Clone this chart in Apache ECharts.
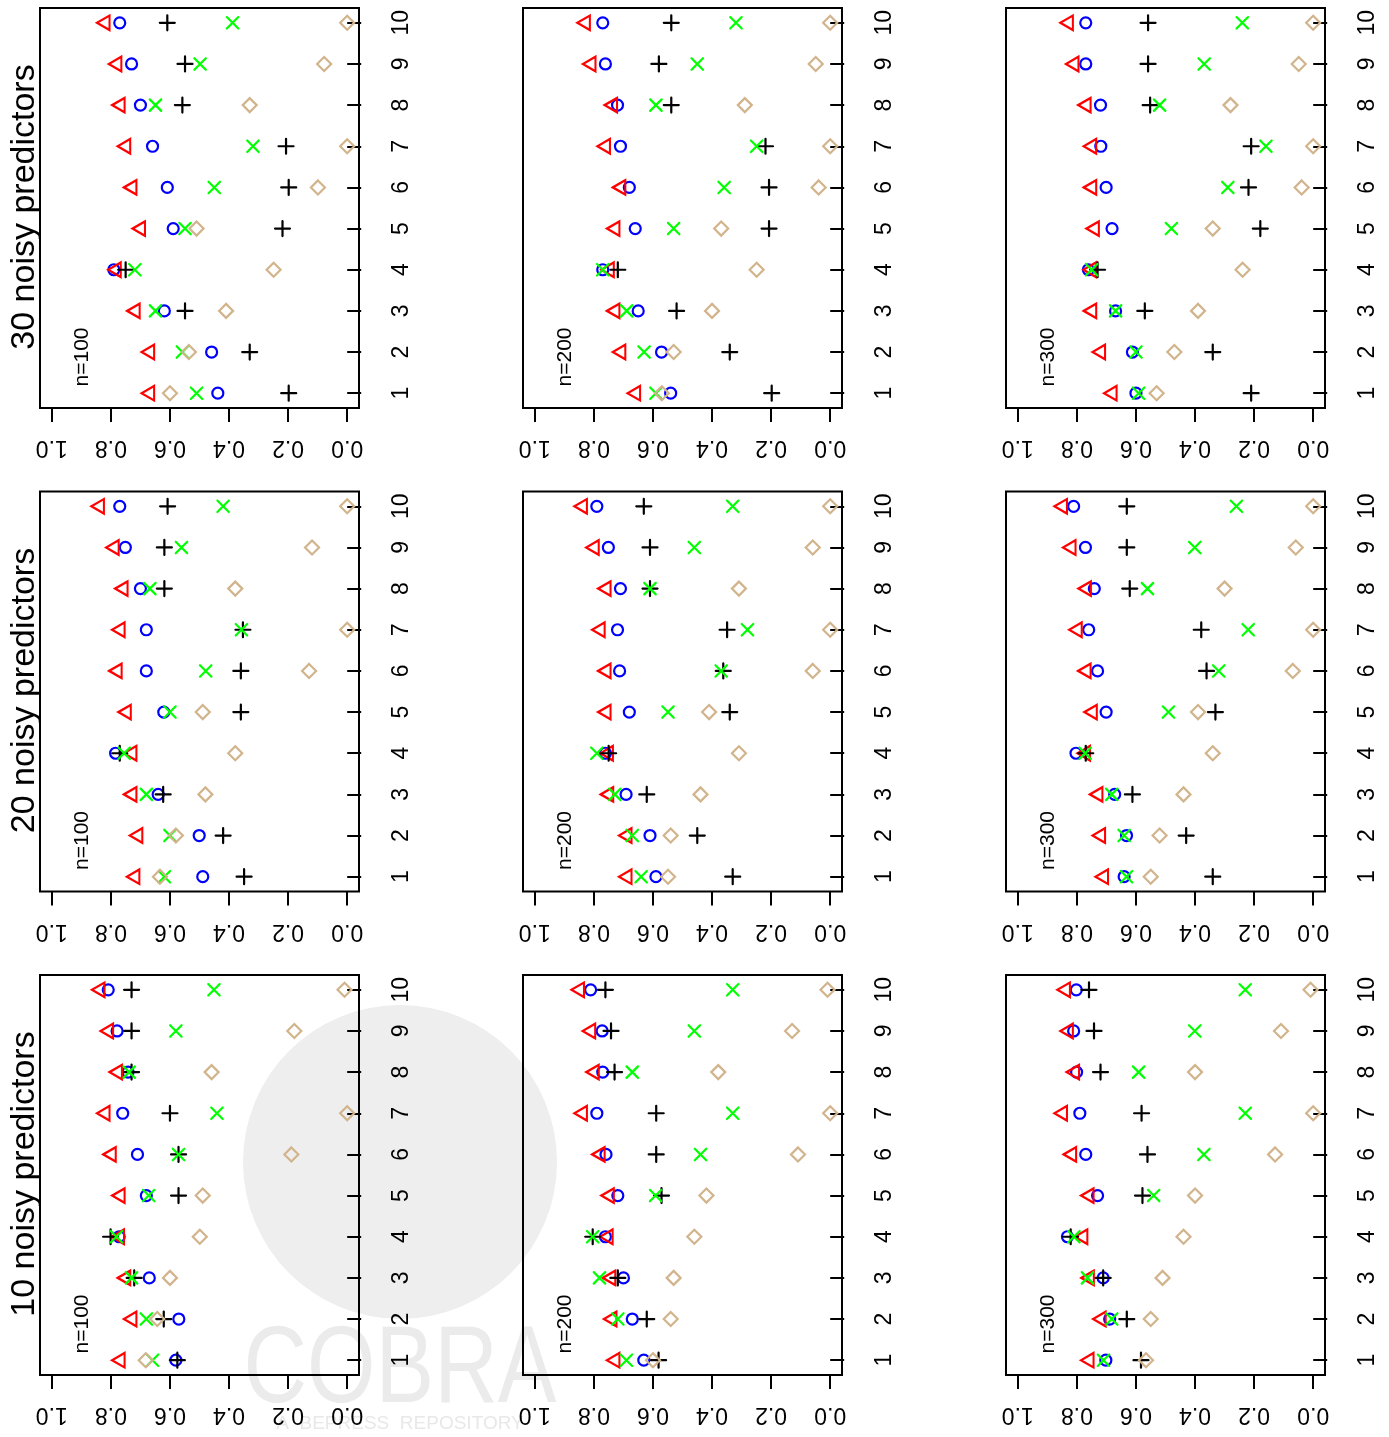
<!DOCTYPE html>
<html><head><meta charset="utf-8">
<script src="https://cdn.jsdelivr.net/npm/echarts@6/dist/echarts.min.js"></script>
<style>html,body{margin:0;padding:0;background:#fff}#c{width:1389px;height:1437px}</style>
</head><body><div id="c"></div>
<script>
// ---------------- data ----------------
const categories = [1, 2, 3, 4, 5, 6, 7, 8, 9, 10];
const valueTicks = [0, 0.2, 0.4, 0.6, 0.8, 1.0];
const rowLabels = ['30 noisy predictors', '20 noisy predictors', '10 noisy predictors'];
const colLabels = ['n=100', 'n=200', 'n=300'];

// Each array: 9 panels (rows: 30, 20, 10 noisy predictors; cols: n=100, 200, 300),
// each panel lists values for categories 1..10.
const triangleRed = [
  [0.668, 0.668, 0.717, 0.781, 0.699, 0.728, 0.749, 0.768, 0.779, 0.819],
  [0.658, 0.708, 0.728, 0.747, 0.728, 0.708, 0.760, 0.736, 0.809, 0.828],
  [0.680, 0.719, 0.749, 0.750, 0.740, 0.749, 0.749, 0.768, 0.809, 0.828],
  [0.718, 0.708, 0.728, 0.728, 0.747, 0.778, 0.768, 0.758, 0.788, 0.838],
  [0.687, 0.687, 0.749, 0.750, 0.758, 0.758, 0.778, 0.758, 0.798, 0.838],
  [0.709, 0.719, 0.728, 0.770, 0.747, 0.768, 0.798, 0.767, 0.819, 0.848],
  [0.768, 0.728, 0.749, 0.770, 0.768, 0.798, 0.819, 0.777, 0.807, 0.836],
  [0.728, 0.738, 0.742, 0.751, 0.747, 0.778, 0.838, 0.798, 0.810, 0.848],
  [0.758, 0.717, 0.757, 0.779, 0.758, 0.817, 0.848, 0.807, 0.828, 0.838]
];
const circleBlue = [
  [0.438, 0.459, 0.619, 0.790, 0.589, 0.609, 0.659, 0.700, 0.730, 0.770],
  [0.540, 0.571, 0.650, 0.770, 0.660, 0.680, 0.710, 0.720, 0.761, 0.770],
  [0.600, 0.612, 0.669, 0.761, 0.681, 0.701, 0.719, 0.720, 0.770, 0.770],
  [0.489, 0.501, 0.640, 0.784, 0.621, 0.680, 0.680, 0.700, 0.751, 0.770],
  [0.590, 0.610, 0.691, 0.761, 0.680, 0.713, 0.720, 0.710, 0.751, 0.790],
  [0.640, 0.632, 0.672, 0.803, 0.701, 0.730, 0.760, 0.741, 0.771, 0.811],
  [0.580, 0.570, 0.670, 0.772, 0.680, 0.710, 0.760, 0.742, 0.779, 0.809],
  [0.631, 0.670, 0.700, 0.761, 0.719, 0.759, 0.790, 0.770, 0.772, 0.811],
  [0.702, 0.689, 0.711, 0.832, 0.730, 0.770, 0.790, 0.801, 0.811, 0.802]
];
const plusBlack = [
  [0.198, 0.330, 0.549, 0.750, 0.219, 0.198, 0.207, 0.558, 0.549, 0.609],
  [0.198, 0.340, 0.520, 0.719, 0.207, 0.207, 0.219, 0.538, 0.580, 0.538],
  [0.210, 0.340, 0.570, 0.730, 0.179, 0.219, 0.210, 0.552, 0.559, 0.559],
  [0.349, 0.420, 0.623, 0.770, 0.360, 0.360, 0.353, 0.619, 0.619, 0.608],
  [0.330, 0.450, 0.621, 0.750, 0.340, 0.362, 0.349, 0.610, 0.610, 0.631],
  [0.340, 0.430, 0.612, 0.770, 0.331, 0.361, 0.379, 0.621, 0.631, 0.631],
  [0.575, 0.621, 0.721, 0.801, 0.571, 0.571, 0.600, 0.730, 0.730, 0.730],
  [0.581, 0.621, 0.719, 0.804, 0.571, 0.589, 0.589, 0.730, 0.742, 0.761],
  [0.583, 0.631, 0.711, 0.821, 0.578, 0.561, 0.581, 0.720, 0.742, 0.759]
];
const crossGreen = [
  [0.510, 0.558, 0.649, 0.719, 0.549, 0.450, 0.319, 0.649, 0.498, 0.388],
  [0.590, 0.630, 0.689, 0.770, 0.530, 0.359, 0.249, 0.590, 0.450, 0.319],
  [0.591, 0.600, 0.669, 0.750, 0.480, 0.289, 0.160, 0.520, 0.369, 0.240],
  [0.619, 0.600, 0.680, 0.755, 0.600, 0.479, 0.358, 0.668, 0.561, 0.420],
  [0.640, 0.670, 0.729, 0.790, 0.549, 0.369, 0.280, 0.610, 0.460, 0.330],
  [0.632, 0.640, 0.682, 0.772, 0.490, 0.320, 0.220, 0.561, 0.401, 0.260],
  [0.659, 0.680, 0.730, 0.781, 0.672, 0.571, 0.441, 0.738, 0.580, 0.451],
  [0.690, 0.719, 0.781, 0.804, 0.591, 0.439, 0.330, 0.670, 0.460, 0.330],
  [0.710, 0.682, 0.764, 0.810, 0.540, 0.370, 0.230, 0.591, 0.401, 0.230]
];
const diamondTan = [
  [0.600, 0.536, 0.410, 0.249, 0.510, 0.099, 0.000, 0.330, 0.078, 0.000],
  [0.570, 0.530, 0.400, 0.249, 0.369, 0.039, 0.000, 0.289, 0.049, 0.000],
  [0.530, 0.470, 0.390, 0.239, 0.340, 0.039, 0.000, 0.280, 0.049, 0.000],
  [0.634, 0.580, 0.480, 0.379, 0.489, 0.129, 0.000, 0.379, 0.119, 0.000],
  [0.549, 0.540, 0.439, 0.309, 0.410, 0.059, 0.000, 0.309, 0.059, 0.000],
  [0.550, 0.520, 0.439, 0.340, 0.390, 0.069, 0.000, 0.300, 0.059, 0.000],
  [0.682, 0.643, 0.600, 0.499, 0.489, 0.189, 0.000, 0.459, 0.179, 0.009],
  [0.600, 0.540, 0.530, 0.460, 0.419, 0.109, 0.000, 0.379, 0.129, 0.009],
  [0.566, 0.550, 0.510, 0.439, 0.400, 0.129, 0.000, 0.400, 0.109, 0.009]
];

// ---------------- chart ----------------
const FONT = '"Liberation Sans", Arial, Helvetica, sans-serif';
const chart = echarts.init(document.getElementById('c'), null, {renderer: 'canvas', width: 1389, height: 1437});

const colLeft = [40, 523, 1006];
const rowTop = [8, 491.5, 975];
const W = 319, H = 400;

const methods = [
  {name: 'circle', data: circleBlue, symbol: 'circle', size: 11, offset: [0, 0], color: '#0000FF'},
  {name: 'triangle', data: triangleRed, symbol: 'path://M-1,0 L0.5,-0.866 L0.5,0.866 Z', size: [12.5, 14.5], offset: [-2, 0], color: '#FF0000'},
  {name: 'plus', data: plusBlack, symbol: 'path://M-1,0 L1,0 M0,-1 L0,1', size: 15, offset: [0, 0], color: '#000000'},
  {name: 'cross', data: crossGreen, symbol: 'path://M-1,-1 L1,1 M-1,1 L1,-1', size: 11.5, offset: [0, 0], color: '#00FF00'},
  {name: 'diamond', data: diamondTan, symbol: 'path://M0,-1 L1,0 L0,1 L-1,0 Z', size: 14, offset: [0, 0], color: '#D2B48C'}
];

const grids = [], xAxes = [], yAxes = [], series = [];
const graphics = [
  // repository watermark (behind everything)
  {type: 'circle', shape: {cx: 400, cy: 1162, r: 157}, style: {fill: '#eeeeee'}, z: -10, silent: true},
  {type: 'text', x: 400, y: 1372, scaleX: 0.8, z: -10, silent: true,
   style: {text: 'COBRA', fontSize: 110, fontFamily: FONT, fill: '#ebebeb', align: 'center', verticalAlign: 'middle'}},
  {type: 'text', x: 400, y: 1424, z: -10, silent: true,
   style: {text: 'A  BEPRESS  REPOSITORY', fontSize: 19, fontFamily: FONT, fill: '#e8e8e8', align: 'center', verticalAlign: 'middle'}}
];

for (let r = 0; r < 3; r++) {
  graphics.push({type: 'text', x: 25, y: rowTop[r] + 199, rotation: Math.PI / 2, silent: true,
    style: {text: rowLabels[r], fontSize: 34, fontFamily: FONT, fill: '#000', align: 'center', verticalAlign: 'middle'}});
  for (let c = 0; c < 3; c++) {
    const idx = r * 3 + c;
    grids.push({left: colLeft[c], top: rowTop[r], width: W, height: H, show: true,
      borderColor: '#000', borderWidth: 2, backgroundColor: 'transparent',
      containLabel: false, outerBoundsMode: 'none'});
    xAxes.push({type: 'value', gridIndex: idx, inverse: true, min: -0.04, max: 1.04, position: 'bottom',
      axisLine: {show: false}, splitLine: {show: false},
      axisTick: {show: true, customValues: valueTicks, length: 14, lineStyle: {color: '#000', width: 2}},
      axisLabel: {show: true, customValues: valueTicks, rotate: 180, fontSize: 23, fontFamily: FONT, color: '#000', margin: 28,
        formatter: v => Number(v).toFixed(1)}});
    yAxes.push({type: 'value', gridIndex: idx, min: 0.64, max: 10.36, position: 'right',
      axisLine: {show: false}, splitLine: {show: false},
      axisTick: {show: true, customValues: categories, length: 14, lineStyle: {color: '#000', width: 2}},
      axisLabel: {show: true, customValues: categories, rotate: 90, fontSize: 23, fontFamily: FONT, color: '#000', margin: 31,
        formatter: v => String(Math.round(v))}});
    graphics.push({type: 'text', x: colLeft[c] + 42, y: rowTop[r] + 349, rotation: Math.PI / 2, silent: true,
      style: {text: colLabels[c], fontSize: 21, fontFamily: FONT, fill: '#000', align: 'center', verticalAlign: 'middle'}});
    methods.forEach(m => {
      series.push({
        type: 'scatter', name: m.name, xAxisIndex: idx, yAxisIndex: idx,
        data: m.data[idx].map((v, i) => [v, categories[i]]),
        symbol: m.symbol, symbolSize: m.size, symbolOffset: m.offset,
        itemStyle: {color: 'transparent', borderColor: m.color, borderWidth: 2.2, borderCap: 'round', borderJoin: 'miter', opacity: 1},
        emphasis: {disabled: true}, silent: true, animation: false
      });
    });
  }
}

chart.setOption({
  backgroundColor: '#ffffff',
  animation: false,
  grid: grids,
  xAxis: xAxes,
  yAxis: yAxes,
  series: series,
  graphic: {elements: graphics}
});
</script>
</body></html>
